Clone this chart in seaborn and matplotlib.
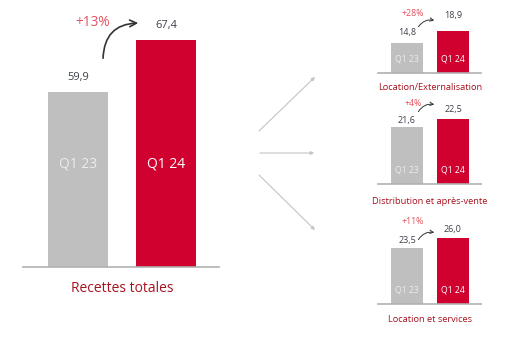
import matplotlib
matplotlib.use("Agg")
import matplotlib.pyplot as plt
import seaborn as sns
import pandas as pd
from matplotlib.patches import FancyArrowPatch

# ---------------- data ----------------
periods = ["Q1 23", "Q1 24"]
total_values = [59.9, 67.4]
total_label = "Recettes totales"
total_growth = "+13%"

segments = ["Location/Externalisation", "Distribution et après-vente", "Location et services"]
segment_q123 = [14.8, 21.6, 23.5]
segment_q124 = [18.9, 22.5, 26.0]
segment_growth = ["+28%", "+4%", "+11%"]

# ---------------- style ----------------
sns.set_theme(style="white")
plt.rcParams["font.family"] = ["Open Sans", "DejaVu Sans"]

W, H = 523, 349
GRAY = "#bfbfbf"
RED = "#d0002f"
VAL_C = "#3d4049"
PCT_C = "#e8505d"
CAT_C = "#a8121f"
AXIS_C = "#b0b0b0"

fig = plt.figure(figsize=(W / 100, H / 100), dpi=100)


def fmt(v):
    return f"{v:.1f}".replace(".", ",")


def make_axes(x0, x1, baseline, top, y0, k):
    """axes from pixel x0..x1, baseline..top (pixels from top), y-scale k px/unit"""
    ax = fig.add_axes([x0 / W, 1 - baseline / H, (x1 - x0) / W, (baseline - top) / H])
    ax.set_ylim(y0, y0 + (baseline - top) / k)
    return ax


def draw(ax, vals, bw, fs_val, fs_q, q_off, val_offs, xl):
    df = pd.DataFrame({"period": periods, "value": vals})
    sns.barplot(data=df, x="period", y="value", hue="period",
                palette=[GRAY, RED], legend=False, width=bw, ax=ax,
                saturation=1, edgecolor="none")
    ax.set_xlim(*xl)
    for s in ["top", "left", "right"]:
        ax.spines[s].set_visible(False)
    ax.spines["bottom"].set_color(AXIS_C)
    ax.spines["bottom"].set_linewidth(1.2)
    ax.set_xticks([])
    ax.set_yticks([])
    ax.set_xlabel("")
    ax.set_ylabel("")
    ybot = ax.get_ylim()[0]
    qcols = ["#ececec", "white"]
    for i, v in enumerate(vals):
        ax.annotate(fmt(v), xy=(i, v), xytext=(0, val_offs[i]), textcoords="offset pixels",
                    ha="center", va="center", fontsize=fs_val, color=VAL_C, annotation_clip=False)
        ax.annotate(periods[i], xy=(i, ybot), xytext=(0, q_off), textcoords="offset pixels",
                    ha="center", va="center", fontsize=fs_q, color=qcols[i], annotation_clip=False)


def px(x, y):
    return (x / W, 1 - y / H)


def curved_arrow(p0, p1, rad, lw, ms):
    a = FancyArrowPatch(px(*p0), px(*p1), transform=fig.transFigure,
                        connectionstyle=f"arc3,rad={rad}", arrowstyle="->",
                        mutation_scale=ms, lw=lw, color="#333333")
    fig.patches.append(a)


# ---------------- main chart ----------------
ax = make_axes(23, 219, 267, 5, 34.65, 6.93)
draw(ax, total_values, 0.68, 8, 10, 103, [15, 15], (-0.625, 1.602))
fig.text(*px(122, 288), total_label, ha="center", va="center", fontsize=10, color=CAT_C)
fig.text(*px(93, 22), total_growth, ha="center", va="center", fontsize=9.8, color=PCT_C)
curved_arrow((103, 61), (141, 23), -0.5, 1.2, 12)

# ---------------- segment charts ----------------
seg_layout = [
    dict(baseline=73, top=2, y0=4.55, k=2.93, offs=[10, 15], lab=87, pct=14, arr=((417, 29), (437, 21))),
    dict(baseline=184, top=100, y0=15.2, k=8.9, offs=[7, 10], lab=201, pct=103, arr=((417, 114), (437, 105))),
    dict(baseline=304, top=215, y0=9.5, k=4.0, offs=[8, 9], lab=319, pct=222, arr=((417, 242), (437, 233))),
]
for i, L in enumerate(seg_layout):
    ax = make_axes(378, 481, L["baseline"], L["top"], L["y0"], L["k"])
    draw(ax, [segment_q123[i], segment_q124[i]], 0.70, 6.5, 6.2, 14, L["offs"], (-0.63, 1.61))
    fig.text(*px(430, L["lab"]), segments[i], ha="center", va="center", fontsize=6.7, color=CAT_C)
    fig.text(*px(413, L["pct"]), segment_growth[i], ha="center", va="center", fontsize=6.3, color=PCT_C)
    curved_arrow(L["arr"][0], L["arr"][1], -0.4, 0.7, 6)

# ---------------- connector arrows ----------------
for (p0, p1) in [((257, 133), (317, 75)), ((257, 153), (317, 153)), ((257, 173), (317, 232))]:
    a = FancyArrowPatch(px(*p0), px(*p1), transform=fig.transFigure, arrowstyle="-|>",
                        mutation_scale=5, lw=0.8, color="#c4c4c4")
    fig.patches.append(a)

fig.savefig("out.png", dpi=100)
